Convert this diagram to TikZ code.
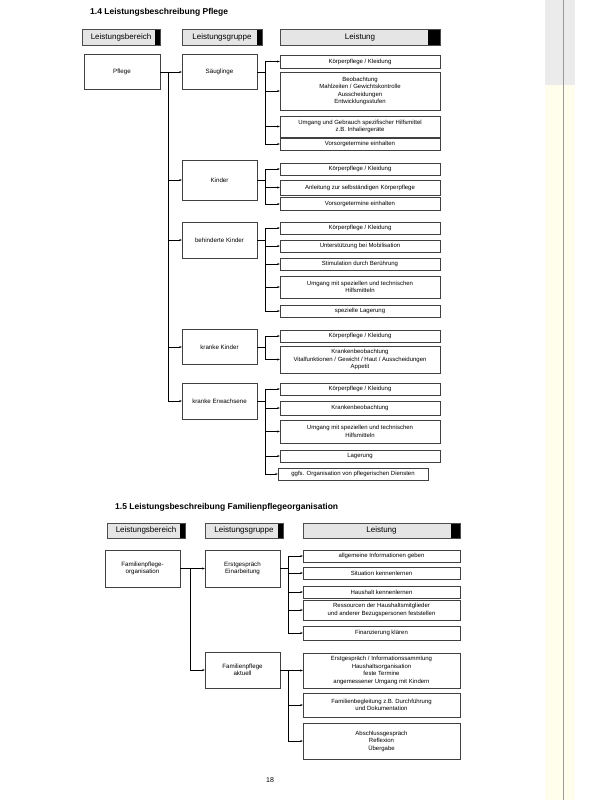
\documentclass[tikz,border=0pt]{standalone}
\usepackage{fontspec}
\setmainfont{Liberation Sans}
\usetikzlibrary{arrows.meta}
\tikzset{
  title/.style={anchor=west, inner sep=0pt, font=\bfseries\fontsize{8.5}{10}\selectfont},
  hdr/.style={draw=black!70, fill=black!10, minimum height=16, inner sep=0pt,
    font=\fontsize{8}{9}\selectfont,
    path picture={\fill[black] ([xshift=-#1]path picture bounding box.north east)
      rectangle (path picture bounding box.south east);}},
  hdr/.default=5pt,
  gbox/.style={draw=black!75, line width=.45pt, minimum width=75, minimum height=36,
    align=center, inner sep=1pt, font=\fontsize{6.2}{7.5}\selectfont},
  lbox/.style={draw=black!75, line width=.45pt, minimum width=160, minimum height=#1,
    align=center, inner sep=1pt, font=\fontsize{6}{7.5}\selectfont},
  lbox/.default=13,
  line/.style={line width=.5pt},
  arr/.style={line width=.4pt, -{Stealth[length=2.5pt,width=2pt]}}
}
\begin{document}
\begin{tikzpicture}[x=1pt, y=-1pt]
  \useasboundingbox (0,0) rectangle (589,800);
  % scanner edge
  \fill[yellow!7] (545,0) rectangle (575,800);
  \fill[black!8] (545,0) rectangle (575,85);
  \draw[black!40, line width=.6pt] (563,0) -- (563,800);

  % 1.4 Pflege
  \node[title] (t1) at (90,12) {1.4 Leistungsbeschreibung Pflege};
  \node[hdr, minimum width=78] (h1) at (121,37) {Leistungsbereich};
  \node[hdr, minimum width=80] (h2) at (222,37) {Leistungsgruppe};
  \node[hdr=12pt, minimum width=160] (h3) at (360,37) {Leistung};

  \node[gbox, minimum width=76, minimum height=35] (pf) at (122,72) {Pflege};
  \node[gbox, minimum height=35] (sg) at (219.5,72) {Säuglinge};
  \node[gbox, minimum height=40] (ki) at (219.5,180) {Kinder};
  \node[gbox] (bk) at (219.5,240) {behinderte Kinder};
  \node[gbox, minimum height=35] (kk) at (219.5,347) {kranke Kinder};
  \node[gbox] (ke) at (219.5,401) {kranke Erwachsene};

  \node[lbox] (l11) at (360,61.5) {Körperpflege / Kleidung};
  \node[lbox=38] (l12) at (360,91) {Beobachtung\\Mahlzeiten / Gewichtskontrolle\\Ausscheidungen\\Entwicklungsstufen};
  \node[lbox=21] (l13) at (360,126.5) {Umgang und Gebrauch spezifischer Hilfsmittel\\z.B. Inhaliergeräte};
  \node[lbox=12] (l14) at (360,144) {Vorsorgetermine einhalten};

  \node[lbox=12] (l21) at (360,169) {Körperpflege / Kleidung};
  \node[lbox=15] (l22) at (360,187.5) {Anleitung zur selbständigen Körperpflege};
  \node[lbox] (l23) at (360,204) {Vorsorgetermine einhalten};

  \node[lbox=12] (l31) at (360,228) {Körperpflege / Kleidung};
  \node[lbox=12] (l32) at (360,246) {Unterstützung bei Mobilisation};
  \node[lbox=12] (l33) at (360,264) {Stimulation durch Berührung};
  \node[lbox=22] (l34) at (360,287) {Umgang mit speziellen und technischen\\Hilfsmitteln};
  \node[lbox=12] (l35) at (360,311) {spezielle Lagerung};

  \node[lbox=12] (l41) at (360,336) {Körperpflege / Kleidung};
  \node[lbox=27] (l42) at (360,359.5) {Krankenbeobachtung\\Vitalfunktionen / Gewicht / Haut / Ausscheidungen\\Appetit};

  \node[lbox=12] (l51) at (360,389) {Körperpflege / Kleidung};
  \node[lbox=14] (l52) at (360,408) {Krankenbeobachtung};
  \node[lbox=23] (l53) at (360,431.5) {Umgang mit speziellen und technischen\\Hilfsmitteln};
  \node[lbox=12] (l54) at (360,456) {Lagerung};
  \node[lbox=12, minimum width=150] (l55) at (353,474) {ggfs. Organisation von pflegerischen Diensten};

  \draw[arr] (pf.east) -- (sg.west);
  \coordinate (s1) at (168,0);
  \draw[line] (pf.east -| s1) -- (ke.west -| s1);
  \foreach \n in {ki,bk,kk,ke}
    \draw[arr] (s1 |- \n.west) -- (\n.west);

  \coordinate (b1) at (265,0);
  \foreach \g/\a/\z/\list in {sg/l11/l14/{l11,l12,l13,l14}, ki/l21/l23/{l21,l22,l23},
      bk/l31/l35/{l31,l32,l33,l34,l35}, kk/l41/l42/{l41,l42}, ke/l51/l55/{l51,l52,l53,l54,l55}}{
    \draw[line] (\g.east) -- (\g.east -| b1);
    \draw[line] (b1 |- \a.west) -- (b1 |- \z.west);
    \foreach \n in \list
      \draw[arr] (b1 |- \n.west) -- (\n.west);
  }

  % 1.5 Familienpflegeorganisation
  \node[title] (t2) at (115,507) {1.5 Leistungsbeschreibung Familienpflegeorganisation};
  \node[hdr, minimum width=78, minimum height=15] (g1) at (146,530.5) {Leistungsbereich};
  \node[hdr, minimum width=78, minimum height=15] (g2) at (244,530.5) {Leistungsgruppe};
  \node[hdr=9pt, minimum width=157, minimum height=15] (g3) at (381.5,530.5) {Leistung};

  \node[gbox, minimum height=37] (fo) at (142.5,568.5) {Familienpflege-\\organisation};
  \node[gbox, minimum height=37] (es) at (242.5,568.5) {Erstgespräch\\Einarbeitung};
  \node[gbox] (fa) at (242.5,670) {Familienpflege\\aktuell};

  \node[lbox=12, minimum width=157] (m11) at (381.5,556) {allgemeine Informationen geben};
  \node[lbox=12, minimum width=157] (m12) at (381.5,573) {Situation kennenlernen};
  \node[lbox=12, minimum width=157] (m13) at (381.5,592) {Haushalt kennenlernen};
  \node[lbox=20, minimum width=157] (m14) at (381.5,610) {Ressourcen der Haushaltsmitglieder\\und anderer Bezugspersonen feststellen};
  \node[lbox=14, minimum width=157] (m15) at (381.5,633) {Finanzierung klären};

  \node[lbox=35, minimum width=157] (m21) at (381.5,670.5) {Erstgespräch / Informationssammlung\\Haushaltsorganisation\\feste Termine\\angemessener Umgang mit Kindern};
  \node[lbox=24, minimum width=157] (m22) at (381.5,705) {Familienbegleitung z.B. Durchführung\\und Dokumentation};
  \node[lbox=36, minimum width=157] (m23) at (381.5,741) {Abschlussgespräch\\Reflexion\\Übergabe};

  \draw[arr] (fo.east) -- (es.west);
  \coordinate (s2) at (190,0);
  \draw[line] (fo.east -| s2) -- (fa.west -| s2);
  \draw[arr] (s2 |- fa.west) -- (fa.west);

  \coordinate (b2) at (288,0);
  \foreach \g/\a/\z/\list in {es/m11/m15/{m11,m12,m13,m14,m15}, fa/m21/m23/{m21,m22,m23}}{
    \draw[line] (\g.east) -- (\g.east -| b2);
    \draw[line] (b2 |- \a.west) -- (b2 |- \z.west);
    \foreach \n in \list
      \draw[arr] (b2 |- \n.west) -- (\n.west);
  }

  \node[font=\fontsize{7}{8}\selectfont] (pg) at (270,780) {18};
\end{tikzpicture}
\end{document}
